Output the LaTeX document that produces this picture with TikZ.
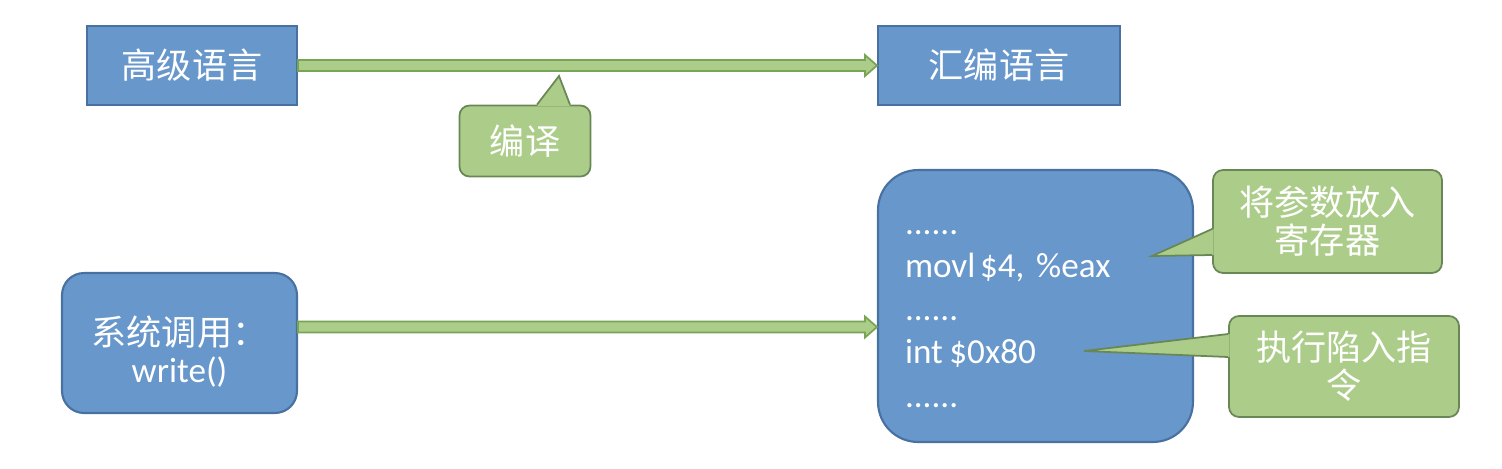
\documentclass[tikz,border=0pt]{standalone}
\usepackage{fontspec}
\setmainfont{Carlito}
\newfontfamily\cjk{Noto Sans CJK SC}
\usepackage{tikz}
\usetikzlibrary{calc}
\definecolor{boxblue}{RGB}{104,151,203}
\definecolor{boxedge}{RGB}{72,112,160}
\definecolor{notegreen}{RGB}{172,205,138}
\definecolor{noteedge}{RGB}{105,135,85}
\definecolor{arrowedge}{RGB}{120,165,85}
\newcommand{\fatarrow}[2]{\filldraw[arrowbody] #1 ++(0,-5.5) -- ($#2+(-12,-5.5)$) -- ++(0,-5) -- #2 -- ++(-12,10.5) -- ++(0,-5) -- ($#1+(0,5.5)$) -- cycle;}

\begin{document}
\begin{tikzpicture}[x=0.02cm, y=-0.02cm,
every node/.style={text=white, inner sep=0pt, font=\fontsize{20}{24}\selectfont},
block/.style={draw=boxedge, fill=boxblue, line width=1.2pt},
note/.style={draw=noteedge, fill=notegreen, line width=1pt, rounded corners=0.2cm,
  align=center, font=\cjk\fontsize{20}{21.6}\selectfont},
arrowbody/.style={draw=arrowedge, fill=notegreen, line width=1pt}]
\useasboundingbox (0,0) rectangle (1502,468);
\node[block, minimum width=4.2cm, minimum height=1.58cm] (high) at (192,65.5) {\cjk 高级语言};
\node[block, minimum width=4.84cm, minimum height=1.58cm] (asm) at (999,65.5) {\cjk 汇编语言};
\node[note, minimum width=2.62cm, minimum height=1.42cm] (cmp) at (525,141) {编译};
\node[block, rounded corners=0.44cm, minimum width=4.7cm, minimum height=2.8cm, align=center,
  font=\fontsize{20}{21.5}\selectfont] (sys) at (179.5,343) {\rule{0pt}{26.6pt}{\cjk 系统调用：}\\write()};
\node[block, rounded corners=0.8cm, minimum width=6.3cm, minimum height=5.44cm, text width=5.22cm,
  align=left, font=\fontsize{20}{24.5}\selectfont] (code) at (1035.5,306)
  {\strut......\\movl\kern-4pt\ \$4, \%eax\\......\\int\kern-3pt\ \$0x80\\......};
\node[note, minimum width=4.58cm, minimum height=2.06cm] (par) at (1327.5,221.5) {将参数放入\\寄存器};
\node[note, minimum width=4.6cm, minimum height=2.02cm] (trap) at (1344,366.5) {执行陷入指\\令};

\coordinate (cmptip) at (559,76);
\fill[notegreen] ($(cmp.north)+(12,1.5)$) -- (cmptip) -- ($(cmp.north)+(45,1.5)$) -- cycle;
\draw[noteedge, line width=1pt] ($(cmp.north)+(12,0)$) -- (cmptip) -- ($(cmp.north)+(45,0)$);
\coordinate (partip) at (1152,256);
\fill[notegreen] ($(par.west)+(1.5,7.5)$) -- (partip) -- ($(par.west)+(1.5,33.5)$) -- cycle;
\draw[noteedge, line width=1pt] ($(par.west)+(0,7.5)$) -- (partip) -- ($(par.west)+(0,33.5)$);
\coordinate (traptip) at (1084,351);
\fill[notegreen] ($(trap.west)+(1.5,-32.5)$) -- (traptip) -- ($(trap.west)+(1.5,-9.5)$) -- cycle;
\draw[noteedge, line width=1pt] ($(trap.west)+(0,-32.5)$) -- (traptip) -- ($(trap.west)+(0,-9.5)$);

\fatarrow{(high.east)}{(asm.west)}
\coordinate (s1) at ($(sys.east)+(0,-16)$);
\coordinate (s2) at (code.west |- s1);
\fatarrow{(s1)}{(s2)}
\end{tikzpicture}
\end{document}
